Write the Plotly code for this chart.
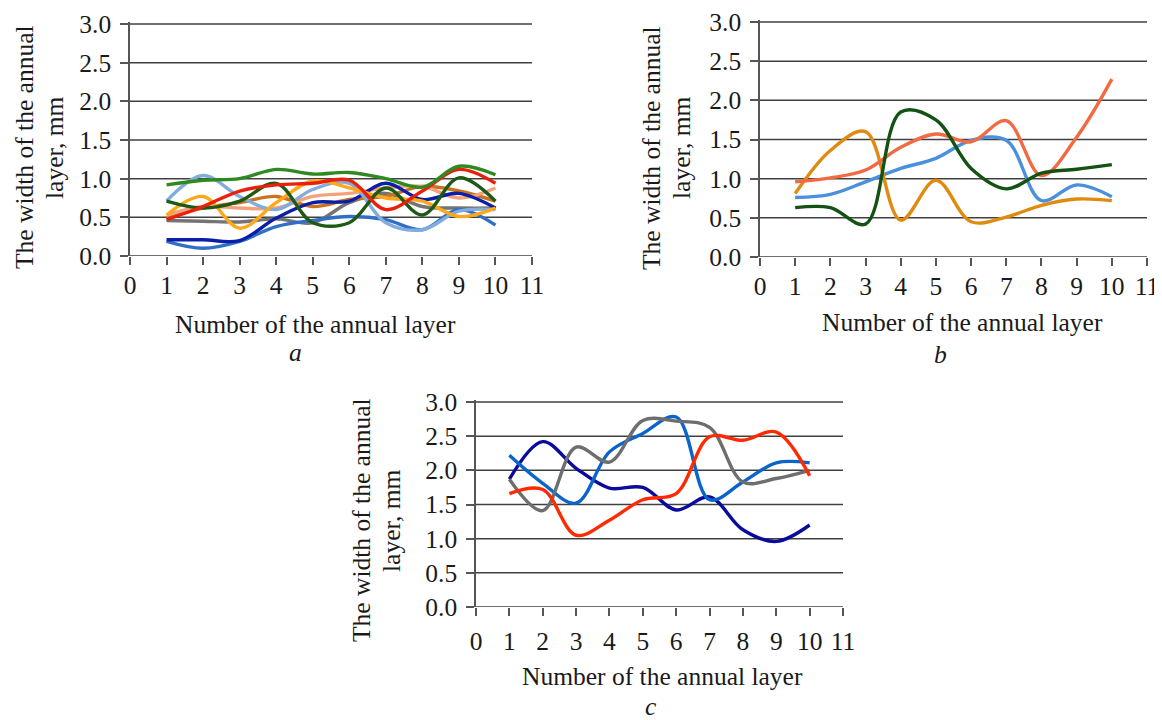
import plotly.graph_objects as go

# ---------------- data ----------------
layers = [1, 2, 3, 4, 5, 6, 7, 8, 9, 10]
x_ticks = [0, 1, 2, 3, 4, 5, 6, 7, 8, 9, 10, 11]
y_ticks = [0.0, 0.5, 1.0, 1.5, 2.0, 2.5, 3.0]
y_tick_labels = ["0.0", "0.5", "1.0", "1.5", "2.0", "2.5", "3.0"]

# panel a
a_green = [0.92, 0.98, 1.00, 1.12, 1.06, 1.08, 1.00, 0.89, 1.16, 1.05]
a_darkgreen = [0.71, 0.62, 0.71, 0.94, 0.43, 0.43, 0.88, 0.53, 1.01, 0.71]
a_red = [0.47, 0.64, 0.84, 0.92, 0.94, 0.98, 0.60, 0.84, 1.12, 0.94]
a_orange = [0.53, 0.77, 0.36, 0.69, 0.97, 0.88, 0.75, 0.71, 0.51, 0.62]
a_lightblue = [0.71, 1.04, 0.77, 0.60, 0.86, 0.94, 0.43, 0.34, 0.58, 0.60]
a_navy = [0.21, 0.21, 0.20, 0.49, 0.69, 0.71, 0.94, 0.73, 0.81, 0.62]
a_blue = [0.19, 0.10, 0.19, 0.38, 0.46, 0.51, 0.47, 0.34, 0.60, 0.40]
a_gray = [0.46, 0.45, 0.44, 0.48, 0.43, 0.69, 0.81, 0.64, 0.62, 0.62]
a_brown = [0.49, 0.62, 0.69, 0.77, 0.64, 0.73, 0.77, 0.90, 0.84, 0.71]
a_salmon = [0.53, 0.64, 0.62, 0.62, 0.77, 0.81, 0.88, 0.90, 0.75, 0.88]

# panel b
b_green = [0.63, 0.63, 0.42, 1.85, 1.75, 1.13, 0.87, 1.07, 1.12, 1.18]
b_orange = [0.81, 1.36, 1.60, 0.47, 0.98, 0.45, 0.51, 0.66, 0.74, 0.72]
b_salmon = [0.96, 1.01, 1.11, 1.40, 1.57, 1.47, 1.74, 1.04, 1.53, 2.27]
b_blue = [0.76, 0.80, 0.96, 1.13, 1.26, 1.49, 1.49, 0.72, 0.92, 0.77]

# panel c
c_navy = [1.87, 2.42, 2.03, 1.74, 1.75, 1.42, 1.61, 1.13, 0.96, 1.20]
c_blue = [2.22, 1.81, 1.52, 2.27, 2.54, 2.78, 1.57, 1.83, 2.11, 2.11]
c_gray = [1.87, 1.41, 2.34, 2.12, 2.73, 2.72, 2.63, 1.83, 1.88, 2.00]
c_red = [1.66, 1.72, 1.05, 1.27, 1.57, 1.66, 2.49, 2.44, 2.56, 1.92]

x_title = "Number of the annual layer"
y_title_lines = ["The width of the annual", "layer, mm"]
panel_letters = ["a", "b", "c"]

# ---------------- layout helpers ----------------
OFF = 8                      # page body margin in the browser
W, H = 1162 - OFF, 720 - OFF
FONT = "Liberation Serif, Times New Roman, serif"
FS = 25.5
Y_MAX = 3.0
Y_PAD = 0.03                 # tiny headroom above 3.0


def px(x):
    return (x - OFF) / W


def py(y):
    return 1 - (y - OFF) / H


# pixel boxes in the 1162x720 page: (left, right, top-of-3.0, bottom)
boxes = {
    "a": (130, 532, 24, 256),
    "b": (760, 1147, 22, 257),
    "c": (476, 843, 402, 607),
}
x_standoff = {"a": -2, "b": -2, "c": 3}

series = {
    "a": [
        (a_gray, "#747474"), (a_brown, "#C8741E"), (a_salmon, "#F4A27C"),
        (a_blue, "#2F6FC8"), (a_navy, "#0A1FA8"), (a_lightblue, "#82ACDC"),
        (a_orange, "#FFA81A"), (a_darkgreen, "#1E5A14"), (a_red, "#E8200C"),
        (a_green, "#2E8A20"),
    ],
    "b": [
        (b_blue, "#4A90DC"), (b_orange, "#E08A10"), (b_salmon, "#F26A42"),
        (b_green, "#145214"),
    ],
    "c": [
        (c_navy, "#0A0A9C"), (c_blue, "#0A64CC"), (c_gray, "#6E6E6E"),
        (c_red, "#FF2A00"),
    ],
}

fig = go.Figure()
layout = dict(
    width=W, height=H, autosize=False,
    margin=dict(l=0, r=0, t=0, b=0, pad=0, autoexpand=False),
    paper_bgcolor="white", plot_bgcolor="white",
    showlegend=False,
    font=dict(family=FONT, size=FS, color="#1a1a1a"),
    annotations=[], shapes=[],
)

for i, key in enumerate(["a", "b", "c"]):
    l, r, t, b = boxes[key]
    t_ext = t - (b - t) * Y_PAD / Y_MAX
    sfx = "" if i == 0 else str(i + 1)
    xa, ya = "x" + sfx, "y" + sfx
    # horizontal grid lines at every y tick
    for v in y_ticks:
        layout["shapes"].append(dict(
            type="line", xref=xa + " domain", yref=ya, x0=0, x1=1, y0=v, y1=v,
            line=dict(color="#404040", width=1.5), layer="below"))
    for vals, col in series[key]:
        fig.add_trace(go.Scatter(
            x=layers, y=vals, mode="lines", xaxis=xa, yaxis=ya,
            line=dict(color=col, width=3.4, shape="spline", smoothing=1.0),
            hoverinfo="skip",
        ))
    layout["xaxis" + sfx] = dict(
        domain=[px(l), px(r)], anchor=ya, range=[0, 11], automargin=False,
        tickmode="array", tickvals=x_ticks, ticktext=[str(v) for v in x_ticks],
        ticks="outside", ticklen=8, tickwidth=1.5, tickcolor="#555555",
        showline=False, showgrid=False, zeroline=False,
        ticklabelstandoff=x_standoff[key], ticklabeloverflow="allow",
        tickfont=dict(family=FONT, size=FS, color="#1a1a1a"),
    )
    layout["yaxis" + sfx] = dict(
        domain=[py(b), py(t_ext)], anchor=xa, range=[0, Y_MAX + Y_PAD],
        automargin=False,
        tickmode="array", tickvals=y_ticks, ticktext=y_tick_labels,
        ticks="outside", ticklen=8, tickwidth=1.5, tickcolor="#555555",
        showline=True, linecolor="#555555", linewidth=1.5,
        showgrid=False, zeroline=False,
        ticklabelstandoff=4, ticklabeloverflow="allow",
        tickfont=dict(family=FONT, size=FS, color="#1a1a1a"),
    )

# titles (pixel positions in the page)
title_pos = {
    "a": dict(xt=(315, 324), yt1=24, yt2=54, ytc=147, letter=(295, 352)),
    "b": dict(xt=(962, 322), yt1=651, yt2=681, ytc=148, letter=(940, 354)),
    "c": dict(xt=(662, 676), yt1=361, yt2=391, ytc=520, letter=(651, 706)),
}


def ann(text, x, y, angle=0):
    return dict(text=text, x=px(x), y=py(y), xref="paper", yref="paper",
                showarrow=False, xanchor="center", yanchor="middle",
                textangle=angle,
                font=dict(family=FONT, size=FS, color="#1a1a1a"))


for key, letter in zip(["a", "b", "c"], panel_letters):
    p = title_pos[key]
    layout["annotations"].append(ann(x_title, *p["xt"]))
    layout["annotations"].append(ann(y_title_lines[0], p["yt1"], p["ytc"], -90))
    layout["annotations"].append(ann(y_title_lines[1], p["yt2"], p["ytc"], -90))
    layout["annotations"].append(ann("<i>" + letter + "</i>", *p["letter"]))

fig.update_layout(**layout)
fig.write_html("out.html")
